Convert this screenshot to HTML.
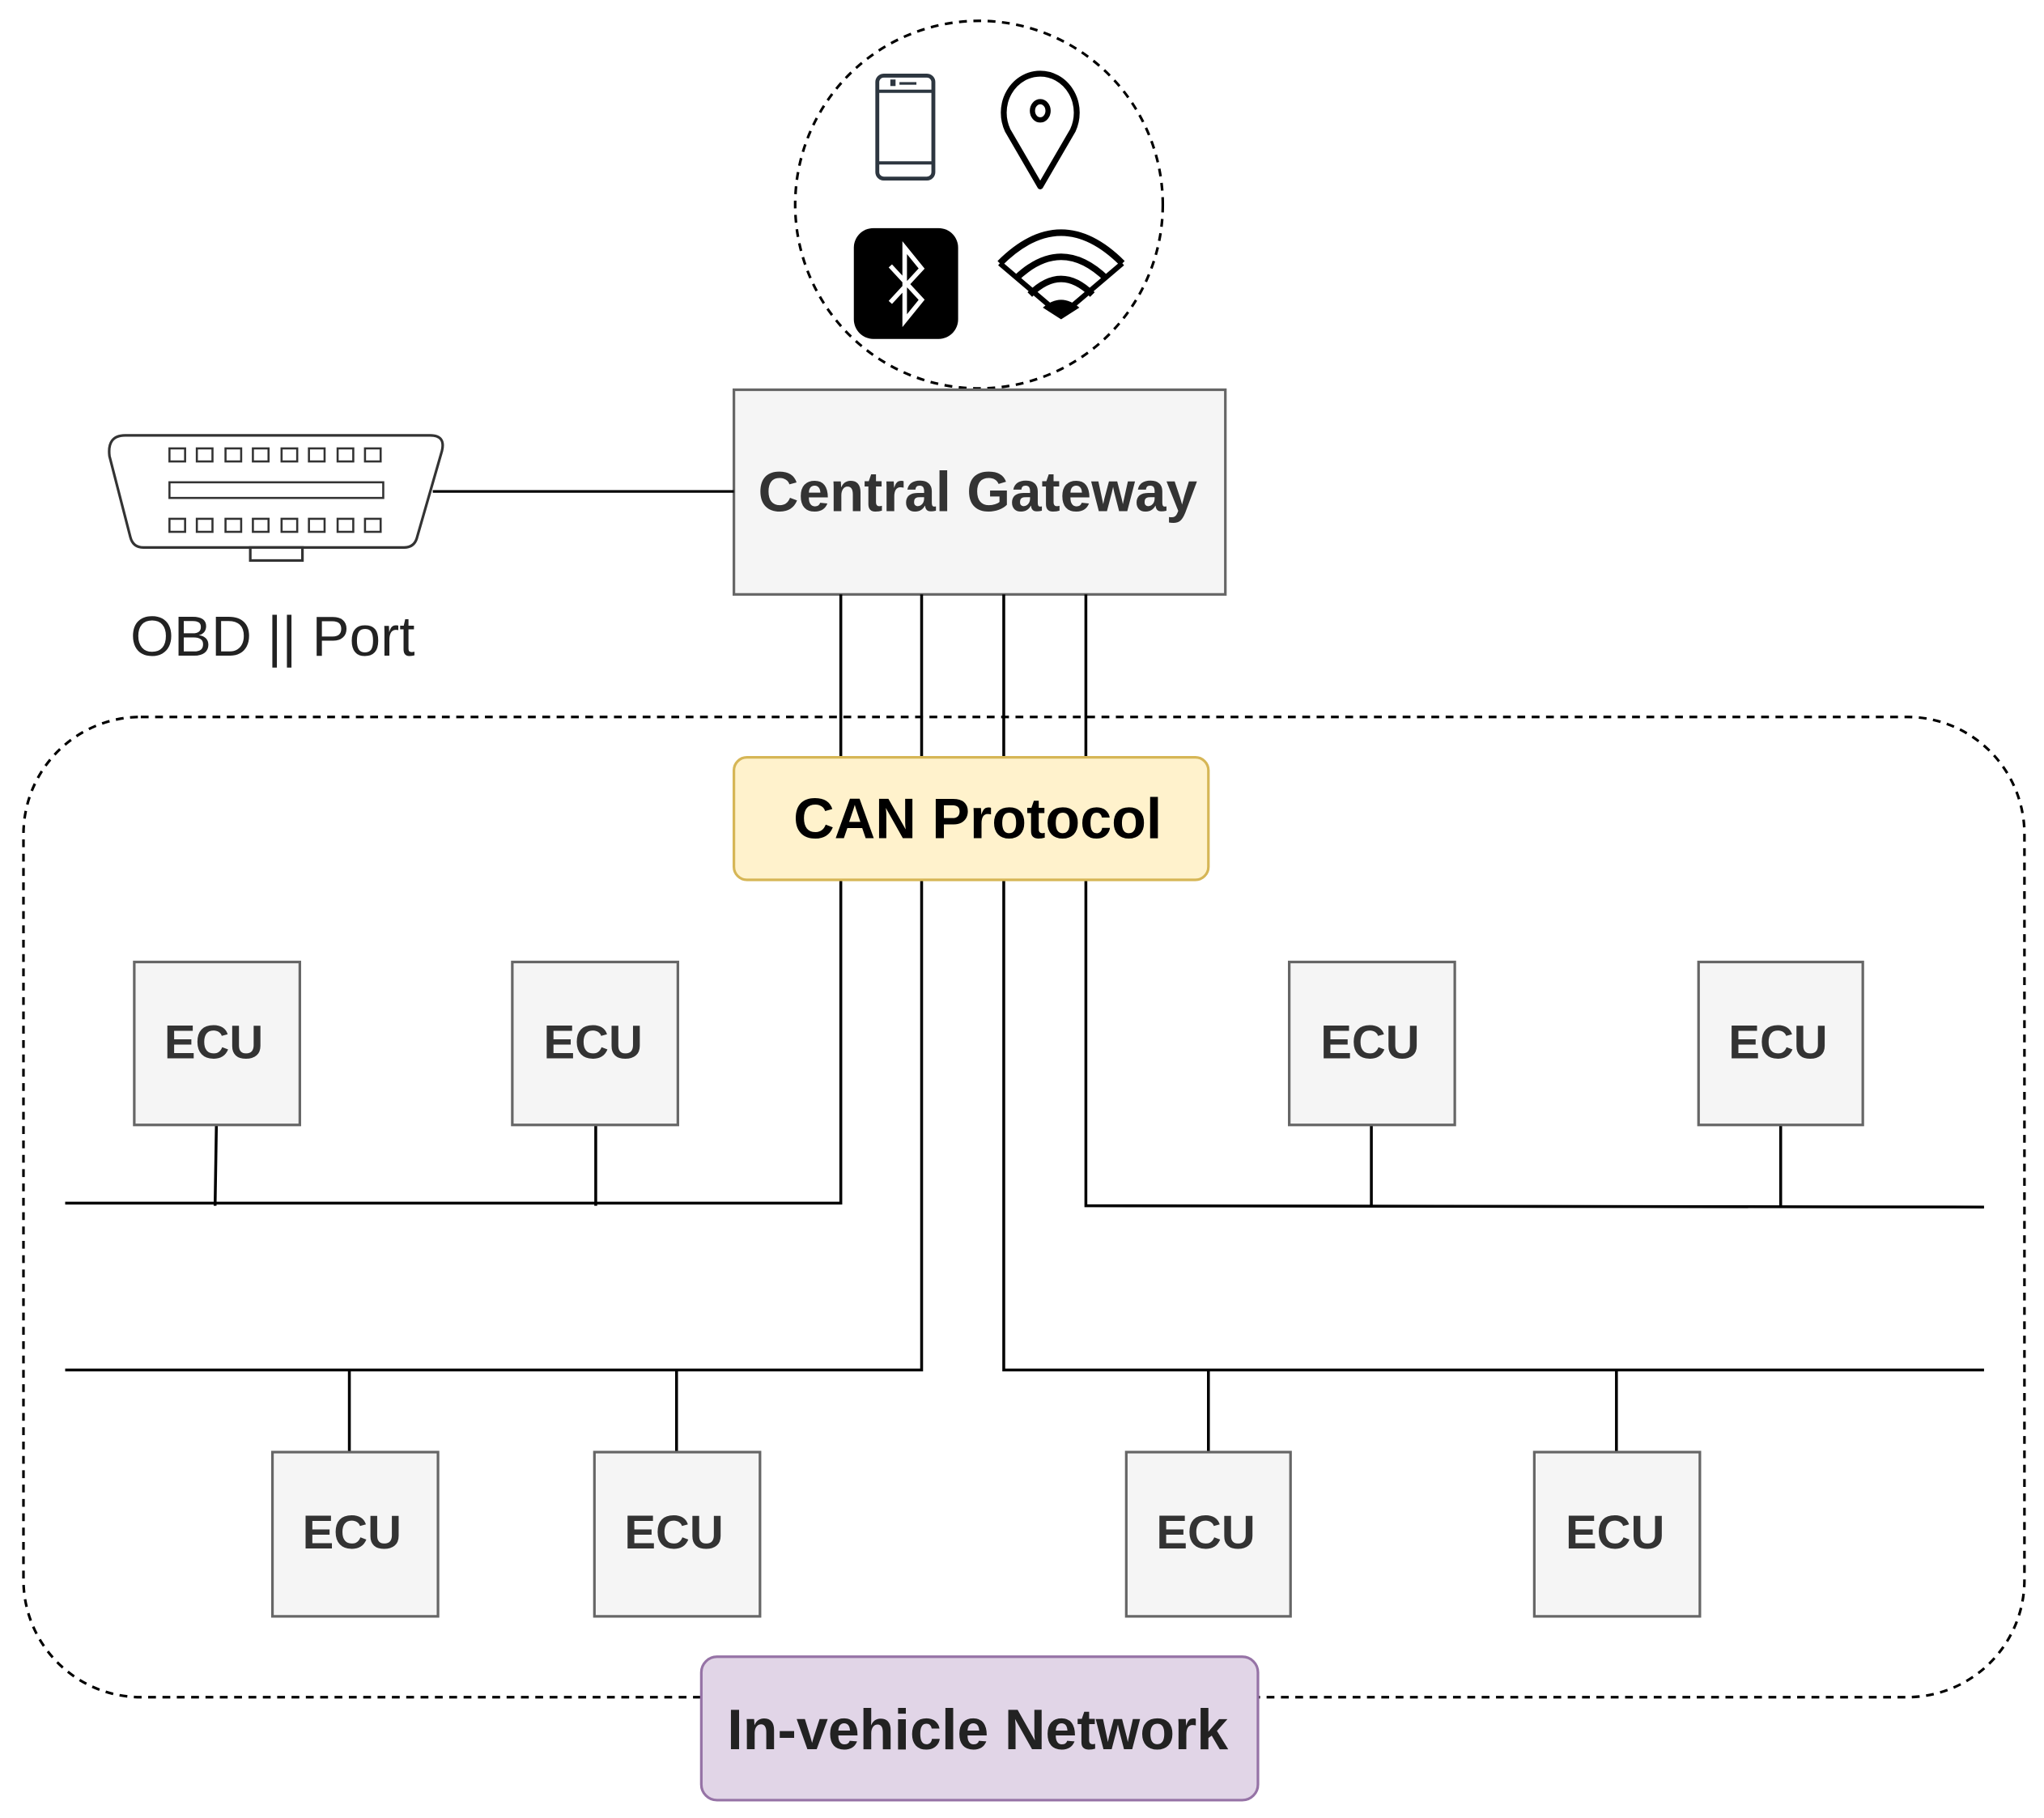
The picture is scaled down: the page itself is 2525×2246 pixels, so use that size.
<!DOCTYPE html>
<html><head><meta charset="utf-8"><style>html,body{margin:0;padding:0;background:#fff}svg{display:block}</style></head>
<body>
<svg width="2525" height="2246" viewBox="0 0 1568 1394.7" preserveAspectRatio="none" xmlns="http://www.w3.org/2000/svg" font-family="Liberation Sans, Arial, sans-serif">
<rect width="1568" height="1395" fill="#fff"/>
<!-- wireless circle -->
<ellipse cx="751" cy="157" rx="141" ry="141" fill="none" stroke="#000" stroke-width="2" stroke-dasharray="6,5"/>
<!-- phone -->
<rect x="673" y="58" width="43" height="79" rx="5" fill="none" stroke="#2d3640" stroke-width="3"/>
<line x1="673" y1="70" x2="716" y2="70" stroke="#2d3640" stroke-width="2.5"/>
<line x1="673" y1="125" x2="716" y2="125" stroke="#2d3640" stroke-width="2.5"/>
<rect x="683" y="61" width="4" height="5" fill="#2d3640"/><rect x="690" y="63" width="13" height="2" fill="#2d3640"/>
<!-- pin -->
<path d="M798 143 L773 100 A28 30 0 1 1 823 100 Z" fill="none" stroke="#000" stroke-width="4.5" stroke-linejoin="round"/>
<ellipse cx="798" cy="85" rx="6" ry="7" fill="none" stroke="#000" stroke-width="4"/>
<!-- bluetooth -->
<rect x="655" y="175" width="80" height="85" rx="15" fill="#000"/>
<path d="M683 204 L707 230 L694 246 L694 190 L707 206 L683 232" fill="none" stroke="#fff" stroke-width="3.5" stroke-linejoin="miter"/>
<!-- wifi -->
<g fill="none" stroke="#000" stroke-width="5">
<path d="M767 202 Q814 155 861 202"/>
<path d="M779 214 Q814 180 849 214"/>
<path d="M790 226 Q814 202 838 226"/>
</g>
<path d="M767 202 L814 242 L861 202" fill="none" stroke="#000" stroke-width="4"/>
<path d="M800 236 L814 245 L828 236 Q814 224 800 236 Z" fill="#000"/>
<!-- gateway -->
<rect x="563" y="299" width="377" height="157" fill="#f5f5f5" stroke="#666" stroke-width="2"/>
<text x="750" y="392" text-anchor="middle" font-size="43" font-weight="bold" fill="#333">Central Gateway</text>
<!-- OBD -->
<line x1="332" y1="377" x2="563" y2="377" stroke="#000" stroke-width="2"/>
<path d="M96 334 L330 334 Q342 334 339 346 L320 412 Q318 420 310 420 L110 420 Q102 420 100 412 L84 350 Q82 334 96 334 Z" fill="#fff" stroke="#333" stroke-width="2"/>
<rect x="192" y="420" width="40" height="10" fill="#fff" stroke="#333" stroke-width="2"/>
<g fill="none" stroke="#333" stroke-width="1.6">
<rect x="130" y="344" width="12" height="10"/><rect x="151" y="344" width="12" height="10"/><rect x="173" y="344" width="12" height="10"/><rect x="194" y="344" width="12" height="10"/><rect x="216" y="344" width="12" height="10"/><rect x="237" y="344" width="12" height="10"/><rect x="259" y="344" width="12" height="10"/><rect x="280" y="344" width="12" height="10"/>
<rect x="130" y="370" width="164" height="12"/>
<rect x="130" y="398" width="12" height="10"/><rect x="151" y="398" width="12" height="10"/><rect x="173" y="398" width="12" height="10"/><rect x="194" y="398" width="12" height="10"/><rect x="216" y="398" width="12" height="10"/><rect x="237" y="398" width="12" height="10"/><rect x="259" y="398" width="12" height="10"/><rect x="280" y="398" width="12" height="10"/>
</g>
<text x="100" y="503" font-size="43" fill="#222">OBD || Port</text>
<!-- network boundary -->
<rect x="18" y="550" width="1535" height="752" rx="90" fill="none" stroke="#000" stroke-width="2" stroke-dasharray="6,5"/>
<!-- bus lines -->
<g stroke="#000" stroke-width="2.2" fill="none">
<polyline points="645,456 645,923 50,923"/>
<polyline points="707,456 707,1051 50,1051"/>
<polyline points="770,456 770,1051 1522,1051"/>
<polyline points="833,456 833,925 1522,926"/>
<line x1="166" y1="863" x2="165" y2="925"/><line x1="457" y1="863" x2="457" y2="925"/>
<line x1="1052" y1="863" x2="1052" y2="925"/><line x1="1366" y1="863" x2="1366" y2="926"/>
<line x1="268" y1="1051" x2="268" y2="1114"/><line x1="519" y1="1051" x2="519" y2="1114"/>
<line x1="927" y1="1051" x2="927" y2="1114"/><line x1="1240" y1="1051" x2="1240" y2="1114"/>
</g>
<!-- CAN -->
<rect x="563" y="581" width="364" height="94" rx="10" fill="#fff2cc" stroke="#d6b656" stroke-width="2"/>
<text x="750" y="643" text-anchor="middle" font-size="43.5" font-weight="bold" fill="#000">CAN Protocol</text>
<!-- ECUs -->
<g fill="#f5f5f5" stroke="#666" stroke-width="2">
<rect x="103" y="738" width="127" height="125"/><rect x="393" y="738" width="127" height="125"/>
<rect x="989" y="738" width="127" height="125"/><rect x="1303" y="738" width="126" height="125"/>
<rect x="209" y="1114" width="127" height="126"/><rect x="456" y="1114" width="127" height="126"/>
<rect x="864" y="1114" width="126" height="126"/><rect x="1177" y="1114" width="127" height="126"/>
</g>
<g font-size="36" font-weight="bold" fill="#333" text-anchor="middle">
<text x="164" y="812">ECU</text><text x="455" y="812">ECU</text><text x="1051" y="812">ECU</text><text x="1364" y="812">ECU</text>
<text x="270" y="1188">ECU</text><text x="517" y="1188">ECU</text><text x="925" y="1188">ECU</text><text x="1239" y="1188">ECU</text>
</g>
<!-- In-vehicle -->
<rect x="538" y="1271" width="427" height="110" rx="12" fill="#e1d5e7" stroke="#9673a6" stroke-width="2"/>
<text x="750" y="1342" text-anchor="middle" font-size="43.5" font-weight="bold" fill="#222">In-vehicle Network</text>
</svg>
</body></html>
